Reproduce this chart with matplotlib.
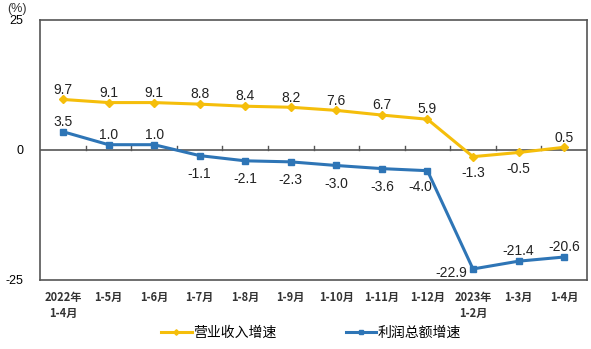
import matplotlib
matplotlib.use('Agg')
import matplotlib.pyplot as plt

plt.rcParams['font.family'] = ['Liberation Sans', 'Noto Sans CJK SC', 'DejaVu Sans']

categories = ['2022年\n1-4月', '1-5月', '1-6月', '1-7月', '1-8月', '1-9月',
              '1-10月', '1-11月', '1-12月', '2023年\n1-2月', '1-3月', '1-4月']
revenue = [9.7, 9.1, 9.1, 8.8, 8.4, 8.2, 7.6, 6.7, 5.9, -1.3, -0.5, 0.5]
profit = [3.5, 1.0, 1.0, -1.1, -2.1, -2.3, -3.0, -3.6, -4.0, -22.9, -21.4, -20.6]

# label offsets in points (dx, dy)
revenue_off = [(0, 7)] * 9 + [(0, -12), (0, -12), (0, 7)]
profit_off = [(0, 7), (0, 7), (0, 7)] + [(0, -13)] * 5 + [(-5, -12), (-16, -3), (0, 7), (0, 7)]

yellow = '#F5BE0B'
blue = '#2E75B6'

fig = plt.figure(figsize=(5.91, 3.49), dpi=100)
ax = fig.add_axes([0.068, 0.198, 0.925, 0.745])

x = list(range(len(categories)))
ax.plot(x, revenue, color=yellow, lw=2.2, marker='D', ms=4, label='营业收入增速')
ax.plot(x, profit, color=blue, lw=2.2, marker='s', ms=4, label='利润总额增速')

for i, v in enumerate(revenue):
    ax.annotate(f'{v:.1f}', (i, v), xytext=revenue_off[i], textcoords='offset points',
                ha='center', va='center', fontsize=10, color='#222222')
for i, v in enumerate(profit):
    ax.annotate(f'{v:.1f}', (i, v), xytext=profit_off[i], textcoords='offset points',
                ha='center', va='center', fontsize=10, color='#222222')

ax.set_xlim(-0.5, len(categories) - 0.5)
ax.set_ylim(-25, 25)
ax.set_yticks([-25, 0, 25])
ax.set_yticklabels(['-25', '0', '25'], fontsize=9)
ax.tick_params(axis='y', length=0, pad=12)

# category boundary ticks on the zero line
ax.axhline(0, color='#555555', lw=1.2, zorder=1)
for b in range(1, len(categories)):
    ax.plot([b - 0.5, b - 0.5], [0, 0.8], color='#555555', lw=1, zorder=1)

ax.set_xticks(x)
ax.set_xticklabels(categories, fontsize=8, fontweight='bold', color='#333333',
                   family=['Noto Sans CJK SC', 'DejaVu Sans'], linespacing=1.3)
ax.tick_params(axis='x', length=0, pad=8)

for s in ax.spines.values():
    s.set_color('#555555')
    s.set_linewidth(1.2)

fig.text(0.012, 0.975, '(%)', fontsize=9, color='#333333', va='center')

fig.legend(loc='lower center', bbox_to_anchor=(0.526, -0.01), ncol=2, frameon=False,
           prop={'family': ['Noto Sans CJK SC', 'DejaVu Sans'], 'size': 10},
           columnspacing=5, handlelength=2.2, handletextpad=0.1, markerscale=0.7)

fig.savefig('out.png', dpi=100)
